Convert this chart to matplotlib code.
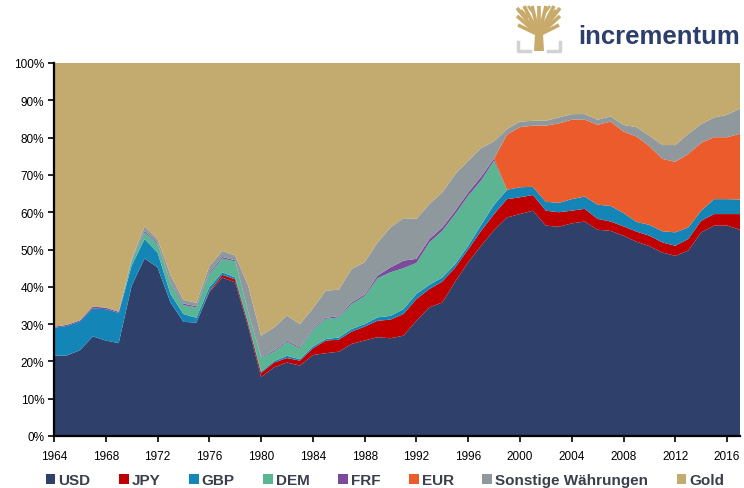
import matplotlib
matplotlib.use("Agg")
import matplotlib.pyplot as plt
from matplotlib.patches import Patch, Rectangle, Polygon
from matplotlib.ticker import PercentFormatter, MultipleLocator
import numpy as np

years = list(range(1964, 2018))

usd = [21.5, 21.6, 23.0, 26.7, 25.6, 24.9, 40.3, 47.6, 45.2, 35.8,
       30.6, 30.4, 38.5, 42.5, 41.2, 29.3, 15.8, 18.4, 19.7, 18.9,
       21.7, 22.2, 22.6, 24.7, 25.6, 26.5, 26.2, 26.9, 30.9, 34.5,
       35.8, 41.4, 46.6, 51.0, 55.2, 58.6, 59.5, 60.4, 56.4, 56.1,
       57.0, 57.5, 55.3, 55.0, 53.7, 52.1, 50.9, 49.2, 48.3, 49.7,
       54.6, 56.4, 56.4, 55.3]
jpy = [0, 0, 0, 0, 0, 0, 0, 0, 0, 0,
       0, 0, 0.3, 0.7, 0.8, 0.8, 1.1, 1.3, 1.2, 1.3,
       1.8, 3.4, 3.2, 3.3, 3.7, 4.4, 5.0, 5.8, 5.8, 4.9,
       5.6, 3.8, 3.4, 4.0, 4.3, 4.9, 4.5, 4.2, 4.0, 3.9,
       3.4, 3.4, 2.9, 2.5, 2.5, 2.7, 2.8, 2.7, 2.7, 3.1,
       3.1, 3.1, 3.1, 4.2]
gbp = [7.5, 7.9, 7.7, 7.5, 8.4, 8.1, 5.4, 5.2, 4.0, 2.3,
       2.1, 1.3, 1.1, 0.7, 0.5, 0.4, 0.4, 0.4, 0.6, 0.4,
       0.5, 0.4, 0.6, 0.7, 0.7, 0.9, 1.0, 1.3, 1.4, 1.1,
       1.1, 0.9, 1.0, 1.6, 2.5, 2.5, 2.7, 2.2, 2.4, 2.5,
       3.1, 3.3, 3.8, 4.2, 3.6, 2.6, 2.9, 3.0, 3.6, 3.1,
       2.7, 4.0, 4.0, 3.9]
dem = [0, 0, 0, 0, 0, 0, 1.3, 1.8, 2.3, 2.9,
       2.4, 2.8, 3.5, 3.7, 4.3, 2.5, 3.7, 2.5, 3.8, 2.9,
       4.5, 5.4, 5.4, 6.7, 7.5, 10.5, 11.7, 11.0, 8.3, 11.4,
       12.5, 13.4, 13.4, 11.9, 11.8, 0, 0, 0, 0, 0,
       0, 0, 0, 0, 0, 0, 0, 0, 0, 0,
       0, 0, 0, 0]
frf = [0.3, 0.3, 0.3, 0.5, 0.4, 0.3, 0.2, 0.4, 0.3, 0.3,
       0.4, 0.3, 0.4, 0.4, 0.3, 0.3, 0.2, 0.3, 0.3, 0.3,
       0.3, 0.3, 0.3, 0.4, 0.4, 0.7, 1.3, 2.0, 1.1, 0.9,
       0.9, 0.9, 0.9, 1.0, 0.6, 0, 0, 0, 0, 0,
       0, 0, 0, 0, 0, 0, 0, 0, 0, 0,
       0, 0, 0, 0]
eur = [0] * 35 + [14.8, 16.1, 16.4, 20.4, 21.3,
                  21.3, 20.6, 21.4, 22.6, 21.8, 22.9, 21.1, 19.4, 18.9, 19.7,
                  18.2, 16.6, 16.6, 17.6]
other = [0, 0, 0, 0, 0, 0, 0.3, 1.2, 1.0, 1.9,
         1.0, 0.9, 1.7, 1.6, 1.3, 7.0, 5.7, 6.2, 6.7, 6.2,
         5.4, 7.3, 7.1, 9.0, 8.7, 8.9, 10.7, 11.4, 10.7, 9.4,
         9.4, 9.8, 8.5, 7.7, 4.6, 1.5, 1.5, 1.3, 1.3, 1.6,
         1.5, 1.5, 1.4, 1.4, 1.8, 2.5, 2.8, 3.7, 4.5, 5.4,
         5.0, 5.3, 6.0, 6.8]

labels = ["USD", "JPY", "GBP", "DEM", "FRF", "EUR", "Sonstige Währungen", "Gold"]
colors = ["#2F416A", "#C00000", "#1385B7", "#5BB593", "#7B4A9B",
          "#EB5B2B", "#8F989D", "#C3AA6F"]

series = [np.array(s, dtype=float) for s in [usd, jpy, gbp, dem, frf, eur, other]]
gold = 100.0 - sum(series)
series.append(gold)
series = [s / 100.0 for s in series]

plt.rcParams['font.family'] = ['Liberation Sans', 'DejaVu Sans']

fig = plt.figure(figsize=(7.44, 4.89), dpi=100)
ax = fig.add_axes([54 / 744, 1 - 437 / 489, (740 - 54) / 744, (437 - 64) / 489])
ax.stackplot(years, *series, colors=colors, linewidth=0)

ax.set_xlim(1964, 2017)
ax.set_ylim(0, 1)
ax.set_xticks(list(range(1964, 2017, 4)))
ax.yaxis.set_major_locator(MultipleLocator(0.1))
ax.yaxis.set_major_formatter(PercentFormatter(1.0, decimals=0))
for s in ["top", "right"]:
    ax.spines[s].set_visible(False)
for s in ["left", "bottom"]:
    ax.spines[s].set_linewidth(1.6)
    ax.spines[s].set_color("black")
ax.tick_params(axis="both", direction="out", length=4, width=1.2,
               labelsize=8.5, colors="black")
ax.tick_params(axis="x", pad=6)
ax.tick_params(axis="y", pad=3)

handles = [Patch(facecolor=c, edgecolor="none") for c in colors]
leg = fig.legend(handles, labels, loc="center", bbox_to_anchor=(385 / 744, 1 - 481 / 489),
                 ncol=8, frameon=False, handlelength=0.65, handleheight=0.65,
                 handletextpad=0.2, columnspacing=1.85,
                 prop={"weight": "bold", "size": 11})
for t in leg.get_texts():
    t.set_color("#3A3F4B")

# Logo
fig.text(578 / 744, 1 - 44 / 489, "incrementum", fontsize=18.5, fontweight="bold",
         color="#2C3F6C", ha="left", va="baseline")
lax = fig.add_axes([512 / 744, 1 - 57 / 489, 53 / 744, 52 / 489])
lax.set_xlim(0, 53)
lax.set_ylim(0, 52)
lax.axis("off")
gold_c = "#C8AA6B"
lax.add_patch(Polygon([(22, 5), (32, 5), (31, 22), (23, 22)], closed=True,
                      color=gold_c, lw=0))
for (x1, y1) in [(5, 48), (12, 50), (20, 50), (27, 50), (34, 50), (42, 50),
                 (48, 48), (5, 40), (48, 40), (6, 31), (47, 31)]:
    lax.plot([27, x1], [21, y1], color=gold_c, lw=2.6, solid_capstyle="butt")
for (x0, y0, x1, y1) in [(16, 38, 9, 46), (37, 38, 44, 46), (22, 42, 16, 50), (32, 42, 38, 50)]:
    lax.plot([x0, x1], [y0, y1], color=gold_c, lw=1.8, solid_capstyle="butt")
gray_c = "#D0D2D4"
lax.plot([6, 6, 18], [14, 5, 5], color=gray_c, lw=2.5)
lax.plot([36, 48, 48], [5, 5, 14], color=gray_c, lw=2.5)

fig.savefig("out.png", dpi=100)
